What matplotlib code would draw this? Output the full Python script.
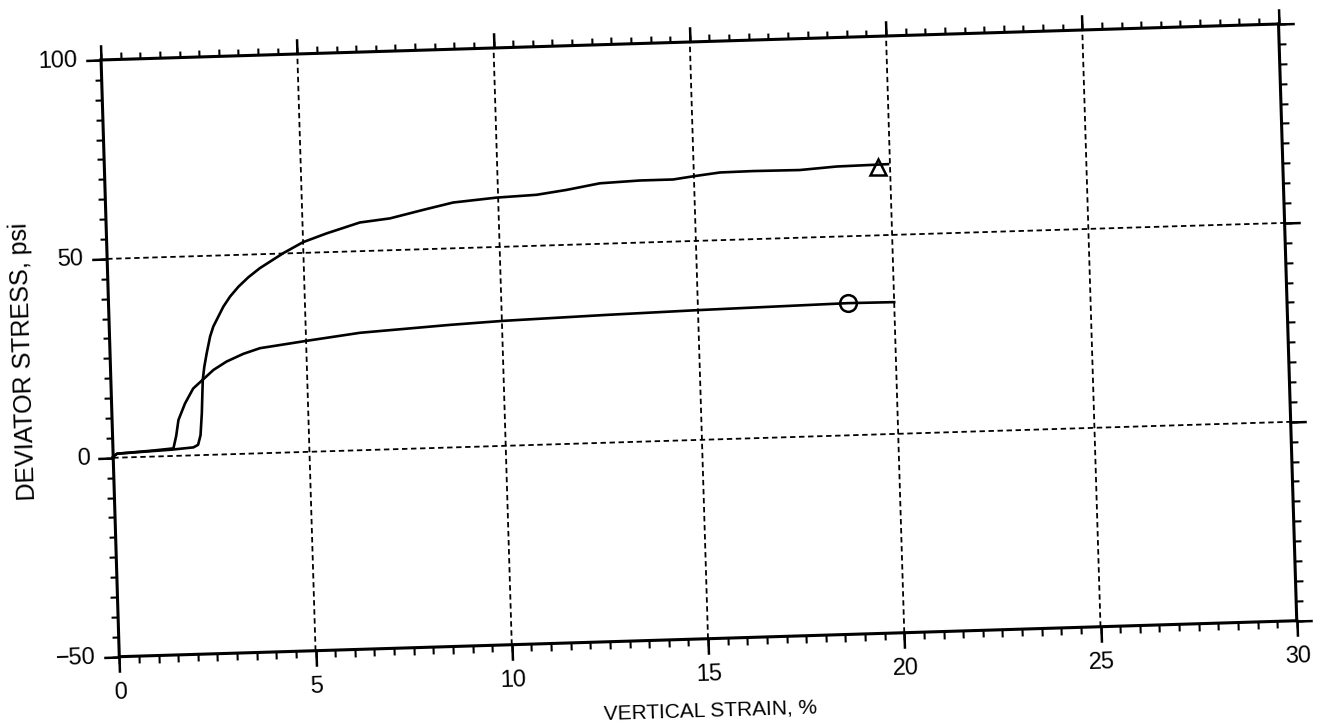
import numpy as np
import matplotlib
matplotlib.use("Agg")
import matplotlib.pyplot as plt
from matplotlib.transforms import Affine2D
import mpl_toolkits.axisartist.floating_axes as floating_axes
from mpl_toolkits.axisartist.grid_finder import FixedLocator, DictFormatter

plt.rcParams['font.family'] = ['Liberation Sans', 'DejaVu Sans']

# specimen 1 (triangle)
strain_a = [0.0, 0.1, 1.5, 2.05, 2.17, 2.24, 2.29, 2.34, 2.39, 2.46, 2.56, 2.65,
            2.92, 3.1, 3.32, 3.58, 3.88, 4.49, 5.0, 5.6, 6.46, 7.23, 8.09, 8.85,
            9.96, 10.98, 11.75, 12.6, 13.62, 14.47, 15.03, 15.67, 16.51, 17.7,
            18.64, 19.95]
stress_a = [0.3, 1.0, 1.6, 2.0, 2.6, 5.0, 10.5, 18.9, 22.2, 25.5, 29.7, 32.2,
            37.1, 39.6, 42.0, 44.3, 46.5, 50.1, 52.7, 54.7, 57.2, 58.0, 59.9,
            61.5, 62.4, 62.8, 63.8, 65.2, 65.6, 65.6, 66.3, 67.0, 67.1, 67.0,
            67.6, 67.8]
# specimen 2 (circle)
strain_b = [0.0, 0.1, 1.0, 1.54, 1.62, 1.69, 1.87, 2.09, 2.35, 2.62, 2.96,
            3.39, 3.82, 5.02, 6.38, 8.68, 10.04, 12.67, 15.01, 16.92, 18.83, 20.0]
stress_b = [0.3, 1.0, 1.5, 1.9, 5.0, 9.0, 13.1, 16.8, 19.0, 21.3, 23.3,
            25.1, 26.4, 27.9, 29.5, 30.8, 31.4, 32.1, 32.6, 32.9, 33.2, 33.1]
mark_a = ([19.7], [67.2])
mark_b = ([18.83], [33.2])

x_major = [0, 5, 10, 15, 20, 25, 30]
x_labels = ["0", "5", "10", "15", "20", "25", "30"]
y_major = [-50, 0, 50, 100]
y_labels = ["\u221250", "0", "50", "100"]
x_minor = np.arange(0, 30.01, 0.5)
y_minor = np.arange(-50, 100.1, 5)

W, H = 1320, 722
fig = plt.figure(figsize=(W / 100, H / 100), dpi=100)

# the scanned sheet is tilted ~1.75 deg: data -> page pixels
tr = (Affine2D().translate(0, 50).scale(1178 / 30, 597 / 150)
      .rotate_deg(1.75).translate(119.3, 65.3))


def tilted_axes(xlocs, ylocs, xfmt, yfmt):
    gh = floating_axes.GridHelperCurveLinear(
        tr, extremes=(0, 30, -50, 100),
        grid_locator1=FixedLocator(xlocs), grid_locator2=FixedLocator(ylocs),
        tick_formatter1=xfmt, tick_formatter2=yfmt)
    a = fig.add_axes([0, 0, 1, 1], axes_class=floating_axes.FloatingAxes,
                     grid_helper=gh)
    a.set_xlim(0, W)
    a.set_ylim(0, H)
    return a


ax = tilted_axes(x_major, y_major,
                 DictFormatter(dict(zip(x_major, x_labels))),
                 DictFormatter(dict(zip(y_major, y_labels))))
ax.grid(True, color='k', linestyle=(0, (3, 2)), linewidth=1.3)
for side in ["bottom", "top", "left", "right"]:
    axis = ax.axis[side]
    axis.line.set_linewidth(2.2)
    axis.major_ticks.set_tick_out(True)
    axis.major_ticks.set_ticksize(11)
    axis.major_ticks.set_markeredgewidth(1.8)
ax.axis["top"].toggle(ticklabels=False, label=False)
ax.axis["right"].toggle(ticklabels=False, label=False)
for side in ["bottom", "left"]:
    ax.axis[side].major_ticklabels.set_fontsize(17)
    ax.axis[side].label.set_visible(True)
ax.axis["bottom"].major_ticklabels.set_pad(7)
ax.axis["left"].major_ticklabels.set_pad(6)
ax.axis["bottom"].label.set_text("VERTICAL STRAIN, %")
ax.axis["bottom"].label.set_fontsize(15)
ax.axis["bottom"].label.set_pad(15)
ax.axis["left"].label.set_text("DEVIATOR STRESS, psi")
ax.axis["left"].label.set_fontsize(18)
ax.axis["left"].label.set_pad(8)

aux = ax.get_aux_axes(tr)
aux.plot(strain_a, stress_a, color='k', lw=1.9)
aux.plot(strain_b, stress_b, color='k', lw=1.9)
aux.plot(*mark_a, marker='^', ms=11, mfc='none', mec='k', mew=1.8, ls='none')
aux.plot(*mark_b, marker='o', ms=12, mfc='none', mec='k', mew=1.8, ls='none')

# minor ticks on a second, transparent copy of the frame
ax2 = tilted_axes(x_minor, y_minor, DictFormatter({}), DictFormatter({}))
ax2.patch.set_facecolor('none')
for side in ["bottom", "top", "left", "right"]:
    axis = ax2.axis[side]
    axis.line.set_visible(False)
    axis.toggle(ticklabels=False, label=False)
    axis.major_ticks.set_tick_out(True)
    axis.major_ticks.set_ticksize(5)
    axis.major_ticks.set_markeredgewidth(1.5)

ax.set_xlim(0, W)
ax.set_ylim(0, H)
fig.savefig("out.png", dpi=100)
